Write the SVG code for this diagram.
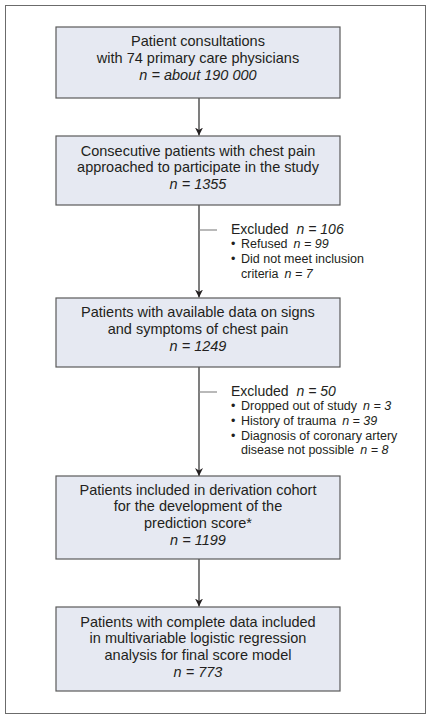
<svg xmlns="http://www.w3.org/2000/svg" width="431" height="720" viewBox="0 0 431 720">
<style>
.frame{fill:#fff;stroke:#6b6b6b;stroke-width:1}
.box{fill:#e6e9f2;stroke:#5a5a5a;stroke-width:1.2}
.t{font-family:"Liberation Sans",Arial,sans-serif;font-size:14.5px;fill:#231f20;text-anchor:middle}
.e{font-family:"Liberation Sans",Arial,sans-serif;font-size:14px;fill:#231f20}
.b{font-family:"Liberation Sans",Arial,sans-serif;font-size:12.5px;fill:#231f20}
.i{font-style:italic}
.arr{stroke:#3a3a3a;stroke-width:1.3;fill:none}
.br{stroke:#8a8a8a;stroke-width:1.2;fill:none}
</style>
<defs>
<marker id="ah" viewBox="0 0 10 10" refX="10" refY="5" markerWidth="8" markerHeight="8" orient="auto" markerUnits="userSpaceOnUse">
<path d="M0,0 L10,5 L0,10 L3,5 Z" fill="#231f20"/>
</marker>
</defs>
<rect class="frame" x="5.5" y="5.5" width="420" height="708"/>
<g id="connectors">
<line class="arr" x1="199" y1="98" x2="199" y2="135.5" marker-end="url(#ah)"/>
<line class="arr" x1="199" y1="205" x2="199" y2="297.5" marker-end="url(#ah)"/>
<line class="arr" x1="199" y1="367" x2="199" y2="476" marker-end="url(#ah)"/>
<line class="arr" x1="199" y1="559" x2="199" y2="606.5" marker-end="url(#ah)"/>
<line class="br" x1="199" y1="230" x2="217" y2="230"/>
<line class="br" x1="199" y1="392" x2="217" y2="392"/>
</g>
<g id="box1">
<rect class="box" x="56" y="27" width="284" height="71"/>
<text class="t" x="198" y="46">Patient consultations</text>
<text class="t" x="198" y="63">with 74 primary care physicians</text>
<text class="t" x="198" y="80"><tspan class="i">n = about 190 000</tspan></text>
</g>
<g id="box2">
<rect class="box" x="56" y="136" width="284" height="69"/>
<text class="t" x="198" y="156">Consecutive patients with chest pain</text>
<text class="t" x="198" y="172">approached to participate in the study</text>
<text class="t" x="198" y="189"><tspan class="i">n = 1355</tspan></text>
</g>
<g id="excl1">
<text class="e" x="231" y="234">Excluded<tspan class="i" dx="8">n = 106</tspan></text>
<text class="b" x="231" y="248">•</text>
<text class="b" x="241" y="248">Refused<tspan class="i" dx="6">n = 99</tspan></text>
<text class="b" x="231" y="263">•</text>
<text class="b" x="241" y="263">Did not meet inclusion</text>
<text class="b" x="241" y="278">criteria<tspan class="i" dx="6">n = 7</tspan></text>
</g>
<g id="box3">
<rect class="box" x="56" y="298" width="284" height="69"/>
<text class="t" x="198" y="317">Patients with available data on signs</text>
<text class="t" x="198" y="334">and symptoms of chest pain</text>
<text class="t" x="198" y="351"><tspan class="i">n = 1249</tspan></text>
</g>
<g id="excl2">
<text class="e" x="231" y="396">Excluded<tspan class="i" dx="8">n = 50</tspan></text>
<text class="b" x="231" y="410">•</text>
<text class="b" x="241" y="410">Dropped out of study<tspan class="i" dx="6">n = 3</tspan></text>
<text class="b" x="231" y="425">•</text>
<text class="b" x="241" y="425">History of trauma<tspan class="i" dx="6">n = 39</tspan></text>
<text class="b" x="231" y="440">•</text>
<text class="b" x="241" y="440">Diagnosis of coronary artery</text>
<text class="b" x="241" y="454">disease not possible<tspan class="i" dx="6">n = 8</tspan></text>
</g>
<g id="box4">
<rect class="box" x="56" y="476" width="284" height="83"/>
<text class="t" x="198" y="495">Patients included in derivation cohort</text>
<text class="t" x="198" y="511">for the development of the</text>
<text class="t" x="198" y="528">prediction score*</text>
<text class="t" x="198" y="545"><tspan class="i">n = 1199</tspan></text>
</g>
<g id="box5">
<rect class="box" x="56" y="607" width="284" height="84"/>
<text class="t" x="198" y="627">Patients with complete data included</text>
<text class="t" x="198" y="643">in multivariable logistic regression</text>
<text class="t" x="198" y="660">analysis for final score model</text>
<text class="t" x="198" y="677"><tspan class="i">n = 773</tspan></text>
</g>
</svg>
